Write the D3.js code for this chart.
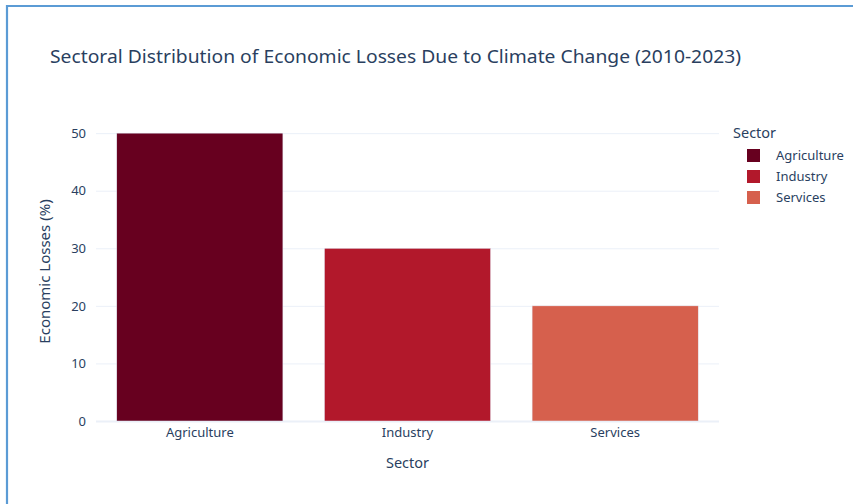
<!DOCTYPE html>
<html><head><meta charset="utf-8">
<script src="https://cdn.jsdelivr.net/npm/d3@7"></script>
<style>body{margin:0;background:#fff;}svg{display:block;font-family:"Noto Sans",sans-serif;}</style>
</head><body><svg id="c" width="853" height="504"></svg>
<script>
const categories = ["Agriculture", "Industry", "Services"];
const values = [50, 30, 20];
const colors = ["#67001f", "#b2182b", "#d6604d"];
const yTicks = [0, 10, 20, 30, 40, 50];

const svg = d3.select("#c");
const W = 853, H = 504;
const m = {l: 96, r: 134, t: 118, b: 83};
const pw = W - m.l - m.r, ph = H - m.t - m.b;
const textColor = "#2a3f5f";

// border
svg.append("path").attr("d", `M7,${H} V6 H${W}`).attr("fill","none").attr("stroke","#5b9bd5").attr("stroke-width",2.2);

const x = d3.scaleBand().domain(categories).range([m.l, m.l + pw]).paddingInner(0.2).paddingOuter(0.1);
const y = d3.scaleLinear().domain([0, 52.63]).range([m.t + ph, m.t]);

// grid
const yAxis = d3.axisLeft(y).tickValues(yTicks).tickSize(-pw).tickPadding(10).tickFormat(d3.format("d"));
const gy = svg.append("g").attr("transform", `translate(${m.l},0)`).call(yAxis);
gy.select(".domain").remove();
gy.selectAll(".tick line").attr("stroke", "#ebf0f8").attr("stroke-width", d => d === 0 ? 2 : 1);
gy.selectAll(".tick text").attr("fill", textColor).attr("font-size", 13).attr("font-family", "Noto Sans");

// bars
svg.append("g").selectAll("rect").data(categories).join("rect")
  .attr("x", d => x(d)).attr("width", x.bandwidth())
  .attr("y", (d, i) => y(values[i])).attr("height", (d, i) => y(0) - y(values[i]))
  .attr("fill", (d, i) => colors[i]).attr("stroke", "#e5ecf6").attr("stroke-width", 0.5);

// x axis
const gx = svg.append("g").attr("transform", `translate(0,${m.t + ph})`).call(d3.axisBottom(x).tickSize(0).tickPadding(7));
gx.select(".domain").remove();
gx.selectAll(".tick text").attr("fill", textColor).attr("font-size", 13).attr("font-family", "Noto Sans");

// axis titles
svg.append("text").attr("x", m.l + pw / 2).attr("y", 468).attr("text-anchor", "middle")
  .attr("fill", textColor).attr("font-size", 14.5).text("Sector");
svg.append("text").attr("transform", `translate(50,${m.t + ph / 2 + 2}) rotate(-90)`).attr("text-anchor", "middle")
  .attr("fill", textColor).attr("font-size", 15).text("Economic Losses (%)");

// title
svg.append("text").attr("x", 50).attr("y", 63).attr("fill", "#2a3f5f").attr("font-size", 18)
  .attr("textLength", 691).attr("lengthAdjust", "spacingAndGlyphs")
  .text("Sectoral Distribution of Economic Losses Due to Climate Change (2010-2023)");

// legend
const lg = svg.append("g");
lg.append("text").attr("x", 733).attr("y", 138).attr("fill", textColor).attr("font-size", 14.5).text("Sector");
categories.forEach((c, i) => {
  const yy = 155 + i * 21;
  lg.append("rect").attr("x", 747).attr("y", yy - 6).attr("width", 13).attr("height", 13).attr("fill", colors[i]);
  lg.append("text").attr("x", 776).attr("y", yy + 5).attr("fill", textColor).attr("font-size", 13).text(c);
});
</script></body></html>
